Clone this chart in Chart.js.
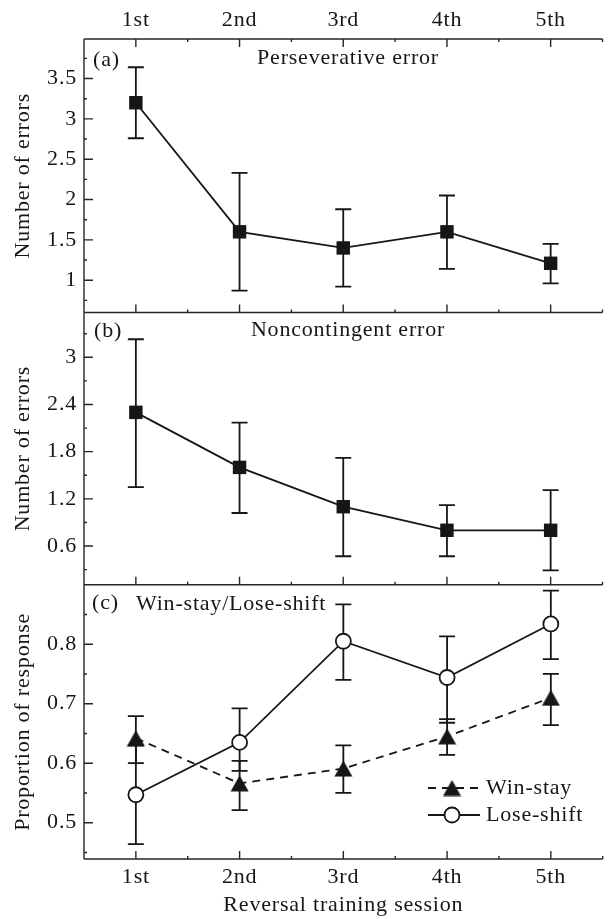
<!DOCTYPE html>
<html>
<head>
<meta charset="utf-8">
<script src="https://cdn.jsdelivr.net/npm/chart.js@4.4.1/dist/chart.umd.min.js"></script>
<style>
html,body{margin:0;padding:0;background:#fff;overflow:hidden;}
#wrap{position:relative;width:612px;height:919px;}
#wrap canvas{position:absolute;left:0;top:0;}
</style>
</head>
<body>
<div id="wrap">
<canvas id="ca" width="612" height="919"></canvas>
<canvas id="cb" width="612" height="919"></canvas>
<canvas id="cc" width="612" height="919"></canvas>
</div>
<script>
// ---------------- data ----------------
const sessions = ['1st', '2nd', '3rd', '4th', '5th'];

const persevMean  = [3.20, 1.60, 1.40, 1.60, 1.21];
const persevUpper = [3.64, 2.33, 1.88, 2.05, 1.45];
const persevLower = [2.76, 0.87, 0.92, 1.14, 0.96];

const noncontMean  = [2.30, 1.60, 1.10, 0.80, 0.80];
const noncontUpper = [3.23, 2.17, 1.72, 1.12, 1.31];
const noncontLower = [1.35, 1.02, 0.47, 0.47, 0.29];

const winStayMean  = [0.642, 0.566, 0.591, 0.645, 0.710];
const winStayUpper = [0.679, 0.604, 0.630, 0.674, 0.750];
const winStayLower = [0.600, 0.521, 0.550, 0.614, 0.664];

const loseShiftMean  = [0.547, 0.635, 0.805, 0.744, 0.834];
const loseShiftUpper = [0.630, 0.692, 0.867, 0.813, 0.890];
const loseShiftLower = [0.464, 0.587, 0.740, 0.668, 0.775];

const yTicksA = [1, 1.5, 2, 2.5, 3, 3.5];
const yTickLabelsA = ['1', '1.5', '2', '2.5', '3', '3.5'];
const yTicksB = [0.6, 1.2, 1.8, 2.4, 3.0];
const yTickLabelsB = ['0.6', '1.2', '1.8', '2.4', '3'];
const yTicksC = [0.5, 0.6, 0.7, 0.8];
const yTickLabelsC = ['0.5', '0.6', '0.7', '0.8'];

// ---------------- style ----------------
const INK = '#161616';
const FONT = "'Liberation Serif', 'Times New Roman', serif";
const FS = 22;
const LW = 1.8;
Chart.defaults.font.family = FONT;
Chart.defaults.color = INK;

const triCanvas = document.createElement('canvas');
triCanvas.width = 19; triCanvas.height = 17;
(function(){
  const c = triCanvas.getContext('2d');
  c.fillStyle = INK;
  c.beginPath(); c.moveTo(9.5, 0.5); c.lineTo(18.5, 16.5); c.lineTo(0.5, 16.5); c.closePath(); c.fill();
})();

function makePanel(id, o) {
  const deco = {
    id: 'deco',
    beforeDraw(chart) { chart.ctx.letterSpacing = '0.8px'; },
    beforeDatasetsDraw(chart) {
      const ctx = chart.ctx, xs = chart.scales.x, ys = chart.scales.y;
      ctx.save();
      ctx.strokeStyle = INK; ctx.lineWidth = LW;
      o.errors.forEach(e => {
        e.upper.forEach((u, i) => {
          const x = xs.getPixelForValue(i);
          const yu = ys.getPixelForValue(u), yl = ys.getPixelForValue(e.lower[i]);
          ctx.beginPath();
          ctx.moveTo(x, yu); ctx.lineTo(x, yl);
          ctx.moveTo(x - 8, yu); ctx.lineTo(x + 8, yu);
          ctx.moveTo(x - 8, yl); ctx.lineTo(x + 8, yl);
          ctx.stroke();
        });
      });
      ctx.restore();
    },
    afterDraw(chart) {
      const ctx = chart.ctx, a = chart.chartArea, xs = chart.scales.x, ys = chart.scales.y;
      ctx.save();
      ctx.strokeStyle = '#262626'; ctx.lineWidth = 1.4;
      ctx.beginPath();
      ctx.moveTo(a.left, a.top); ctx.lineTo(a.left, a.bottom);
      ctx.moveTo(a.left, a.bottom); ctx.lineTo(a.right, a.bottom);
      if (o.topBorder) { ctx.moveTo(a.left, a.top); ctx.lineTo(a.right, a.top); }
      const step = xs.getPixelForValue(1) - xs.getPixelForValue(0);
      sessions.forEach((s, i) => {
        const x = xs.getPixelForValue(i);
        ctx.moveTo(x, a.bottom); ctx.lineTo(x, a.bottom - 8);
        ctx.moveTo(x + step / 2, a.bottom); ctx.lineTo(x + step / 2, a.bottom - 3);
        if (o.topBorder) {
          ctx.moveTo(x, a.top); ctx.lineTo(x, a.top + 8);
          ctx.moveTo(x + step / 2, a.top); ctx.lineTo(x + step / 2, a.top + 3);
        }
      });
      const t = o.yTicks, half = (t[1] - t[0]) / 2;
      t.forEach(v => {
        const y = ys.getPixelForValue(v);
        ctx.moveTo(a.left, y); ctx.lineTo(a.left + 9, y);
      });
      for (let v = t[0] - half; v <= o.yMax; v += half * 2) {
        if (v < o.yMin) continue;
        const y = ys.getPixelForValue(v);
        ctx.moveTo(a.left, y); ctx.lineTo(a.left + 3, y);
      }
      ctx.stroke();
      ctx.fillStyle = INK;
      ctx.font = FS + 'px ' + FONT;
      ctx.textBaseline = 'middle';
      o.texts.forEach(tx => {
        ctx.textAlign = tx.align;
        ctx.fillText(tx.text, tx.x, tx.y);
      });
      if (o.legend) {
        o.legend.forEach(l => {
          ctx.save();
          ctx.strokeStyle = INK; ctx.lineWidth = LW;
          ctx.setLineDash(l.dash);
          ctx.beginPath(); ctx.moveTo(428, l.y); ctx.lineTo(480, l.y); ctx.stroke();
          ctx.setLineDash([]);
          if (l.marker === 'tri') {
            ctx.drawImage(triCanvas, 452 - 9.5, l.y - 8.5);
          } else {
            ctx.beginPath(); ctx.arc(452, l.y, 7.5, 0, Math.PI * 2);
            ctx.fillStyle = '#fff'; ctx.fill(); ctx.stroke();
          }
          ctx.restore();
          ctx.textAlign = 'left';
          ctx.fillText(l.text, 486, l.y);
        });
      }
      ctx.restore();
    }
  };

  return new Chart(document.getElementById(id), {
    type: 'line',
    data: { labels: sessions, datasets: o.datasets },
    options: {
      responsive: false,
      animation: false,
      devicePixelRatio: 1,
      layout: { padding: { top: o.padTop, bottom: o.padBottom, left: 0, right: 0 } },
      plugins: { legend: { display: false }, tooltip: { enabled: false } },
      scales: {
        x: {
          type: 'category', labels: sessions, offset: true, position: 'bottom',
          display: o.showBottom,
          grid: { display: false, drawTicks: false }, border: { display: false },
          ticks: { font: { size: FS }, padding: 5, autoSkip: false, maxRotation: 0 },
          title: { display: true, text: 'Reversal training session', font: { size: FS }, padding: { top: 1, bottom: 1 } },
          afterFit: s => { s.height = o.showBottom ? 60 : 0; }
        },
        xTop: {
          type: 'category', labels: sessions, offset: true, position: 'top',
          display: o.showTop,
          grid: { display: false, drawTicks: false }, border: { display: false },
          ticks: { font: { size: FS }, padding: 6, autoSkip: false, maxRotation: 0 },
          afterFit: s => { s.height = o.showTop ? 39 : 0; }
        },
        y: {
          type: 'linear', position: 'left', min: o.yMin, max: o.yMax,
          grid: { display: false, drawTicks: false }, border: { display: false },
          ticks: { font: { size: FS }, padding: 7, callback: (v, i) => o.yTickLabels[i] },
          afterBuildTicks: s => { s.ticks = o.yTicks.map(v => ({ value: v })); },
          afterFit: s => { s.width = 84; },
          title: { display: true, text: o.yTitle, font: { size: FS }, padding: { top: 10, bottom: 10 } }
        }
      }
    },
    plugins: [deco]
  });
}

const lineCommon = { borderColor: INK, borderWidth: LW, tension: 0, clip: false };

makePanel('ca', {
  padTop: 0, padBottom: 919 - 312.5, showTop: true, showBottom: false, topBorder: true,
  yMin: 0.6, yMax: 3.99, yTicks: yTicksA, yTickLabels: yTickLabelsA, yTitle: 'Number of errors',
  datasets: [Object.assign({ label: 'Perseverative error', data: persevMean, pointStyle: 'rect', pointRadius: 9.5,
    pointBackgroundColor: INK, pointBorderColor: INK, pointBorderWidth: 0 }, lineCommon)],
  errors: [{ upper: persevUpper, lower: persevLower }],
  texts: [{ text: '(a)', x: 93, y: 60, align: 'left' }, { text: 'Perseverative error', x: 348, y: 58, align: 'center' }]
});

makePanel('cb', {
  padTop: 312.5, padBottom: 919 - 584.7, showTop: false, showBottom: false, topBorder: false,
  yMin: 0.108, yMax: 3.57, yTicks: yTicksB, yTickLabels: yTickLabelsB, yTitle: 'Number of errors',
  datasets: [Object.assign({ label: 'Noncontingent error', data: noncontMean, pointStyle: 'rect', pointRadius: 9.5,
    pointBackgroundColor: INK, pointBorderColor: INK, pointBorderWidth: 0 }, lineCommon)],
  errors: [{ upper: noncontUpper, lower: noncontLower }],
  texts: [{ text: '(b)', x: 94, y: 331, align: 'left' }, { text: 'Noncontingent error', x: 348, y: 330, align: 'center' }]
});

makePanel('cc', {
  padTop: 584.7, padBottom: 0, showTop: false, showBottom: true, topBorder: false,
  yMin: 0.439, yMax: 0.9, yTicks: yTicksC, yTickLabels: yTickLabelsC, yTitle: 'Proportion of response',
  datasets: [
    Object.assign({ label: 'Lose-shift', data: loseShiftMean, pointStyle: 'circle', pointRadius: 7.5,
      pointBackgroundColor: '#fff', pointBorderColor: INK, pointBorderWidth: LW }, lineCommon),
    Object.assign({ label: 'Win-stay', data: winStayMean, pointStyle: triCanvas,
      pointBackgroundColor: INK, pointBorderColor: INK, borderDash: [8, 6] }, lineCommon)
  ],
  errors: [{ upper: winStayUpper, lower: winStayLower }, { upper: loseShiftUpper, lower: loseShiftLower }],
  texts: [{ text: '(c)', x: 92, y: 603, align: 'left' }, { text: 'Win-stay/Lose-shift', x: 136, y: 604, align: 'left' }],
  legend: [{ text: 'Win-stay', y: 788, dash: [8, 6], marker: 'tri' }, { text: 'Lose-shift', y: 815, dash: [], marker: 'circle' }]
});
</script>
</body>
</html>
